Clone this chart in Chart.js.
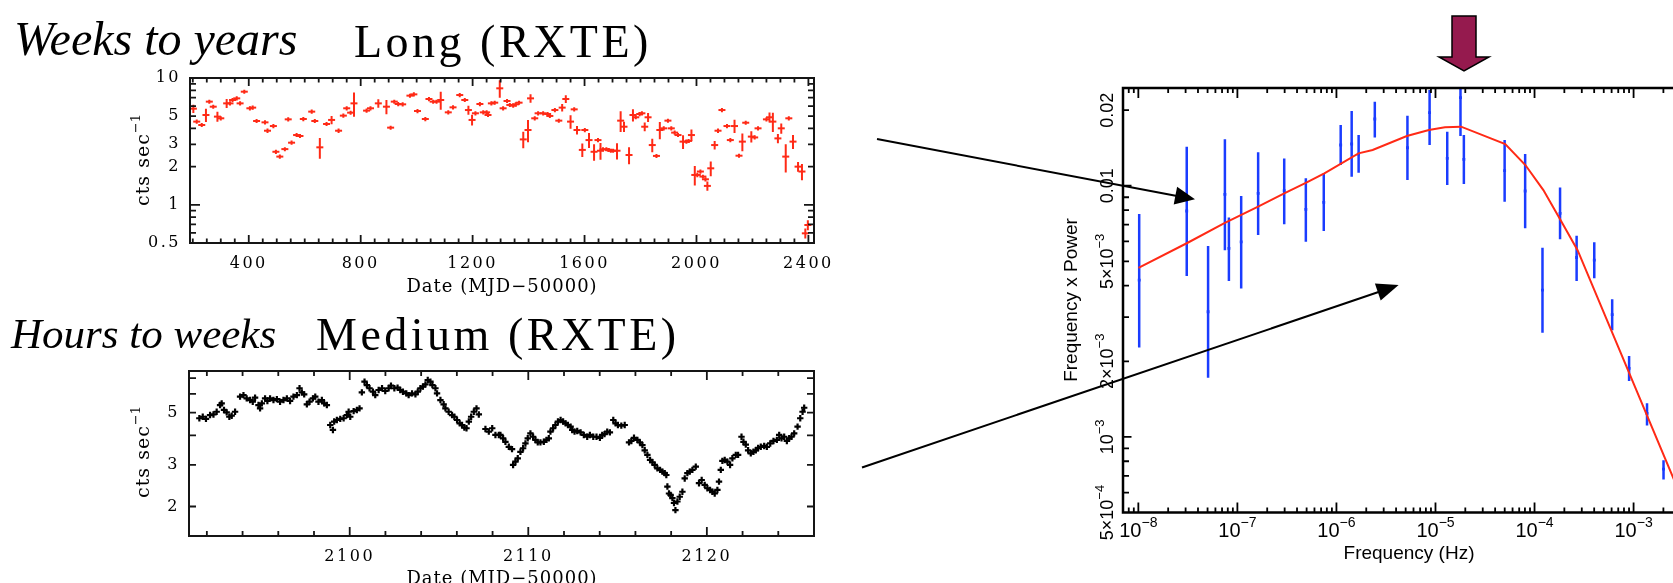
<!DOCTYPE html>
<html lang="en">
<head>
<meta charset="utf-8">
<title>RXTE light curves and power spectrum</title>
<script src="https://cdn.jsdelivr.net/npm/chart.js@4.4.1/dist/chart.umd.min.js"></script>
<style>
  html, body { margin: 0; padding: 0; background: #fff; overflow: hidden; }
  #stage { position: relative; width: 1673px; height: 583px; overflow: hidden; background: #fff; }
  #stage canvas { position: absolute; left: 0; top: 0; }
  #overlay { position: absolute; left: 0; top: 0; }
</style>
</head>
<body>
<div id="stage">
  <canvas id="longChart" width="1673" height="583"></canvas>
  <canvas id="medChart" width="1673" height="583"></canvas>
  <canvas id="psdChart" width="1720" height="583"></canvas>
  <svg id="overlay" width="1673" height="583" viewBox="0 0 1673 583">
    <text x="14" y="55" font-family="Liberation Serif" font-style="italic" font-size="48" fill="#000">Weeks to years</text>
    <text x="354" y="57" font-family="Liberation Serif" font-size="46" letter-spacing="3.5" fill="#000">Long (RXTE)</text>
    <text x="11" y="348" font-family="Liberation Serif" font-style="italic" font-size="43" fill="#000">Hours to weeks</text>
    <text x="316" y="350" font-family="Liberation Serif" font-size="46" letter-spacing="3.5" fill="#000">Medium (RXTE)</text>
    <!-- break-frequency marker -->
    <polygon points="1452,16 1476,16 1476,57 1489,57 1464,71 1439,57 1452,57" fill="#951a4e" stroke="#000" stroke-width="1.5"/>
    <!-- pointers from the light curves to the spectrum -->
    <line x1="877" y1="139" x2="1177" y2="196" stroke="#000" stroke-width="2"/>
    <polygon points="1195,199.3 1177.1,186.8 1173.7,204.4" fill="#000"/>
    <line x1="862" y1="467.5" x2="1380" y2="291.5" stroke="#000" stroke-width="2"/>
    <polygon points="1398.6,285 1374.9,283.6 1380.7,300.6" fill="#000"/>
  </svg>
</div>
<script>
// ---------- Long-term light curve (MJD-50000, count rate, 1-sigma error) ----------
const longDay = [202, 214, 232, 247, 259, 273, 288, 300, 321, 333, 342, 357, 369, 384, 404, 414, 428, 458, 467, 488,
  497, 511, 529, 541, 553, 571, 583, 595, 625, 636, 654, 678, 696, 721, 738, 750, 764, 776, 821, 835,
  863, 892, 907, 920, 934, 950, 976, 990, 1003, 1031, 1044, 1059, 1071, 1086, 1113, 1130, 1154, 1172, 1185, 1198,
  1210, 1226, 1238, 1250, 1255, 1267, 1279, 1297, 1309, 1323, 1333, 1345, 1354, 1366, 1381, 1398, 1407, 1422, 1434, 1452,
  1468, 1476, 1494, 1508, 1520, 1533, 1550, 1563, 1573, 1592, 1601, 1616, 1634, 1648, 1657, 1666, 1678, 1686, 1694, 1702,
  1716, 1729, 1741, 1759, 1773, 1783, 1797, 1805, 1815, 1827, 1842, 1857, 1869, 1883, 1898, 1910, 1922, 1934, 1952, 1964,
  1972, 1982, 1994, 2003, 2014, 2023, 2032, 2039, 2051, 2065, 2077, 2091, 2109, 2121, 2136, 2152, 2164, 2176, 2196, 2208,
  2220, 2250, 2261, 2273, 2291, 2303, 2319, 2330, 2345, 2363, 2377, 2389, 2398];
const longRate = [5.73, 4.53, 4.26, 5.11, 6.51, 5.94, 4.96, 4.81, 6.31, 6.31, 6.71, 6.91, 6.31, 7.80, 5.77, 5.84, 4.58, 4.47, 3.84, 4.18,
  2.62, 2.40, 2.75, 4.72, 3.09, 3.55, 3.49, 4.75, 5.43, 4.58, 2.84, 4.34, 4.67, 3.84, 5.05, 5.77, 5.33, 6.31, 5.53, 5.77,
  6.31, 5.94, 4.06, 6.51, 6.24, 6.20, 7.26, 7.43, 5.49, 4.75, 6.83, 6.51, 6.51, 6.71, 5.36, 5.87, 7.34, 6.71, 5.59, 4.67,
  5.27, 6.24, 5.36, 5.36, 5.11, 6.31, 6.39, 8.29, 5.77, 6.59, 6.13, 6.05, 6.20, 6.39, 3.28, 3.89, 6.91, 4.81, 5.27, 5.27,
  5.20, 5.02, 5.59, 4.61, 5.84, 6.83, 4.53, 5.66, 3.89, 2.71, 3.89, 3.24, 2.62, 3.24, 2.67, 2.74, 2.74, 2.71, 2.67, 2.67,
  2.67, 4.61, 4.13, 2.47, 5.11, 4.90, 5.20, 5.27, 4.13, 4.90, 2.96, 2.43, 3.89, 4.01, 4.61, 4.01, 3.71, 3.55, 3.15, 3.15,
  3.19, 3.55, 1.72, 1.72, 1.83, 1.67, 1.59, 1.41, 1.94, 2.96, 3.84, 5.59, 4.18, 3.24, 4.18, 2.44, 3.15, 4.44, 3.45, 3.40,
  4.01, 4.72, 4.90, 4.53, 3.34, 4.01, 2.40, 4.81, 3.15, 2.00, 1.83, 0.596, 0.693];
const longErr = [0.43, 0.17, 0.16, 0.62, 0.24, 0.22, 0.45, 0.18, 0.51, 0.24, 0.25, 0.26, 0.24, 0.29, 0.22, 0.22, 0.17, 0.17, 0.15, 0.16,
  0.10, 0.09, 0.10, 0.18, 0.12, 0.13, 0.13, 0.18, 0.21, 0.17, 0.53, 0.16, 0.35, 0.15, 0.19, 0.22, 0.20, 1.37, 0.21, 0.22,
  0.48, 0.76, 0.15, 0.24, 0.24, 0.23, 0.27, 0.28, 0.21, 0.18, 0.26, 0.24, 0.24, 1.08, 0.20, 0.22, 0.28, 0.25, 0.45, 0.45,
  0.20, 0.24, 0.20, 0.20, 0.19, 0.24, 0.24, 1.30, 0.22, 0.25, 0.23, 0.23, 0.23, 0.24, 0.49, 0.77, 0.52, 0.18, 0.20, 0.20,
  0.20, 0.19, 0.21, 0.17, 0.39, 0.48, 0.55, 0.21, 0.30, 0.33, 0.15, 0.44, 0.39, 0.12, 0.40, 0.10, 0.10, 0.10, 0.10, 0.10,
  0.39, 0.85, 0.38, 0.38, 0.57, 0.18, 0.20, 0.20, 0.33, 0.40, 0.36, 0.09, 0.60, 0.15, 0.17, 0.15, 0.14, 0.13, 0.39, 0.12,
  0.12, 0.37, 0.30, 0.07, 0.07, 0.06, 0.06, 0.12, 0.26, 0.23, 0.15, 0.21, 0.16, 0.12, 0.50, 0.09, 0.50, 0.17, 0.35, 0.13,
  0.15, 0.18, 0.45, 0.78, 0.28, 0.37, 0.60, 0.18, 0.40, 0.18, 0.27, 0.054, 0.062];

// ---------- Medium-term light curve (MJD-50000, count rate) ----------
const medDay = [2091.58, 2091.77, 2091.95, 2092.18, 2092.37, 2092.55, 2092.74, 2092.83, 2092.96, 2093.11,
  2093.26, 2093.39, 2093.58, 2093.86, 2094.05, 2094.23, 2094.42, 2094.57, 2094.70, 2094.89,
  2094.98, 2095.08, 2095.26, 2095.39, 2095.54, 2095.73, 2095.92, 2096.10, 2096.29, 2096.48,
  2096.66, 2096.85, 2097.04, 2097.19, 2097.32, 2097.45, 2097.60, 2097.75, 2097.94, 2098.07,
  2098.25, 2098.44, 2098.57, 2098.72, 2098.91, 2099.06, 2099.13, 2099.28, 2099.47, 2099.66,
  2099.84, 2099.94, 2100.03, 2100.22, 2100.40, 2100.55, 2100.68, 2100.83, 2100.96, 2101.11,
  2101.30, 2101.43, 2101.62, 2101.81, 2101.99, 2102.18, 2102.31, 2102.50, 2102.68, 2102.83,
  2102.98, 2103.17, 2103.30, 2103.49, 2103.68, 2103.81, 2103.96, 2104.10, 2104.24, 2104.37,
  2104.52, 2104.63, 2104.80, 2104.89, 2105.08, 2105.26, 2105.36, 2105.54, 2105.73, 2105.86,
  2106.01, 2106.16, 2106.29, 2106.42, 2106.54, 2106.67, 2106.80, 2106.95, 2107.10, 2107.23,
  2107.60, 2107.79, 2107.98, 2108.16, 2108.35,
  2108.44, 2108.59, 2108.72, 2108.91, 2109.09, 2109.15, 2109.28, 2109.41, 2109.56, 2109.71,
  2109.84, 2109.97, 2110.12, 2110.27, 2110.40, 2110.53, 2110.68, 2110.87, 2111.02, 2111.15,
  2111.24, 2111.39, 2111.52, 2111.66, 2111.81, 2111.95, 2112.09, 2112.22, 2112.37, 2112.46,
  2112.59, 2112.74, 2112.93, 2113.11, 2113.30, 2113.45, 2113.64, 2113.82, 2114.01, 2114.14,
  2114.27, 2114.42, 2114.57, 2114.76, 2114.89, 2115.02, 2115.21, 2115.40, 2115.64, 2115.77,
  2115.92, 2116.11, 2116.25, 2116.39, 2116.52, 2116.67, 2116.82, 2116.95, 2117.08, 2117.23,
  2117.38, 2117.51, 2117.64, 2117.73, 2117.79, 2117.88, 2117.97, 2118.07, 2118.16, 2118.24,
  2118.35, 2118.48, 2118.63, 2118.76, 2118.91, 2119.04, 2119.19, 2119.38, 2119.56, 2119.71,
  2119.88, 2120.03, 2120.18, 2120.31, 2120.44, 2120.59, 2120.68, 2120.78, 2120.87, 2121.00,
  2121.15, 2121.30, 2121.43, 2121.62, 2121.75, 2121.94, 2122.05, 2122.18, 2122.31, 2122.46,
  2122.61, 2122.74, 2122.87, 2123.02, 2123.21, 2123.36, 2123.55, 2123.73, 2123.92, 2124.05,
  2124.18, 2124.33, 2124.48, 2124.61, 2124.74, 2124.89, 2125.08, 2125.23, 2125.36, 2125.45];
const medRate = [4.73, 4.80, 4.70, 4.88, 4.91, 5.04, 5.38, 5.47, 5.13, 5.01,
  4.80, 4.85, 5.04, 5.84, 5.93, 5.74, 5.65, 5.56, 5.78, 5.38,
  5.21, 5.47, 5.74, 5.60, 5.74, 5.65, 5.70, 5.56, 5.65, 5.74,
  5.60, 5.84, 5.93, 6.34, 6.09, 5.97, 5.42, 5.56, 5.74, 5.84,
  5.56, 5.65, 5.47, 5.38, 4.43, 4.22, 4.58, 4.65, 4.70, 4.73,
  4.88, 5.04, 4.80, 5.07, 5.13, 5.21, 6.09, 6.76, 6.54, 6.34,
  6.13, 5.93, 6.23, 6.34, 6.17, 6.34, 6.50, 6.34, 6.38, 6.23,
  6.13, 6.03, 5.93, 6.03, 5.97, 6.13, 6.34, 6.44, 6.58, 6.87,
  6.76, 6.54, 6.34, 6.03, 5.65, 5.42, 5.21, 5.04, 4.88, 4.80,
  4.65, 4.50, 4.43, 4.32, 4.29, 4.58, 4.80, 5.04, 5.21, 4.91,
  4.26, 4.15, 4.29, 4.02, 4.02,
  4.02, 3.89, 3.76, 3.58, 3.50, 3.00, 3.10, 3.20, 3.41, 3.53,
  3.70, 3.89, 4.08, 3.95, 3.83, 3.74, 3.74, 3.76, 3.83, 3.89,
  4.15, 4.29, 4.43, 4.58, 4.65, 4.58, 4.50, 4.43, 4.36, 4.22,
  4.15, 4.18, 4.12, 4.02, 3.95, 4.02, 3.95, 3.95, 3.91, 4.02,
  4.05, 4.15, 4.12, 4.65, 4.50, 4.43, 4.40, 4.43, 3.74, 3.79,
  3.91, 3.83, 3.74, 3.64, 3.46, 3.31, 3.15, 3.08, 3.00, 2.90,
  2.86, 2.81, 2.77, 2.72, 2.43, 2.27, 2.24, 2.17, 2.07, 1.93,
  2.10, 2.20, 2.31, 2.63, 2.77, 2.81, 2.86, 2.95, 2.51, 2.59,
  2.47, 2.39, 2.35, 2.31, 2.27, 2.35, 2.55, 2.86, 3.12, 3.15,
  3.10, 3.00, 3.20, 3.31, 3.31, 3.95, 3.76, 3.66, 3.46, 3.36,
  3.41, 3.46, 3.54, 3.58, 3.61, 3.58, 3.70, 3.79, 3.83, 4.02,
  3.89, 3.95, 3.79, 3.89, 3.95, 4.08, 4.36, 4.73, 5.04, 5.24];

// ---------- Power spectrum (frequency x power) with error range ----------
const psdFreq = [1.02e-8, 3.08e-8, 5.06e-8, 7.48e-8, 8.21e-8, 1.092e-7, 1.62e-7, 2.97e-7, 4.91e-7, 7.45e-7,
  1.104e-6, 1.425e-6, 1.675e-6, 2.44e-6, 5.21e-6, 8.72e-6, 1.314e-5, 1.788e-5, 1.934e-5, 4.99e-5,
  8.04e-5, 1.203e-4, 1.81e-4, 2.66e-4, 4.01e-4, 6.08e-4, 9.01e-4, 1.367e-3, 2.006e-3];
const psdPower = [4.21e-3, 7.93e-3, 3.15e-3, 9.24e-3, 5.63e-3, 5.98e-3, 9.33e-3, 9.55e-3, 8.05e-3, 8.59e-3,
  0.01453, 0.01466, 0.01337, 0.01844, 0.01417, 0.01954, 0.01286, 0.02242, 0.01274, 0.01148,
  9.53e-3, 3.84e-3, 7.76e-3, 5.18e-3, 5.06e-3, 3.07e-3, 1.873e-3, 1.24e-3, 7.44e-4];
const psdLow = [2.27e-3, 4.37e-3, 1.72e-3, 5.54e-3, 4.18e-3, 3.90e-3, 6.36e-3, 7.02e-3, 5.98e-3, 6.60e-3,
  0.01209, 0.01086, 0.01127, 0.01558, 0.01054, 0.01453, 0.01006, 0.01578, 0.01016, 8.64e-3,
  6.77e-3, 2.60e-3, 6.12e-3, 4.18e-3, 4.28e-3, 2.66e-3, 1.67e-3, 1.11e-3, 6.77e-4];
const psdHigh = [7.71e-3, 0.01430, 5.75e-3, 0.01531, 7.48e-3, 9.10e-3, 0.01358, 0.01285, 0.01070, 0.01120,
  0.01745, 0.01984, 0.01592, 0.02161, 0.01901, 0.02406, 0.01641, 0.02466, 0.01592, 0.01521,
  0.01337, 5.66e-3, 9.85e-3, 6.32e-3, 5.95e-3, 3.53e-3, 2.10e-3, 1.36e-3, 8.08e-4];

// bending power-law model
const modelFreq = [1.003e-8, 3.15e-8, 7.31e-8, 1.618e-7, 2.97e-7, 4.96e-7, 7.55e-7, 1.67e-6, 2.32e-6, 5.14e-6,
  8.58e-6, 1.246e-5, 1.813e-5, 5.06e-5, 8.08e-5, 1.228e-4, 1.872e-4, 2.72e-4, 4.9e-3];
const modelPower = [4.71e-3, 5.93e-3, 7.08e-3, 8.25e-3, 9.33e-3, 0.01028, 0.01121, 0.01346, 0.01388, 0.01578,
  0.01667, 0.01709, 0.01719, 0.01466, 0.01209, 9.61e-3, 7.19e-3, 5.54e-3, 3.67e-4];

// ---------- tick labels ----------
const longXTickLabels = [400, 800, 1200, 1600, 2000, 2400];
const longYTickLabels = [0.5, 1, 2, 3, 5, 10];
const medXTickLabels = [2100, 2110, 2120];
const medYTickLabels = [2, 3, 5];
const psdXTickExponents = [-8, -7, -6, -5, -4, -3];
const psdYTickValues = [5e-4, 1e-3, 2e-3, 5e-3, 0.01, 0.02];

const RED = '#ff2a16';
const BLUE = '#1a3cff';
const SERIF = '"DejaVu Serif", serif';
const SANS = '"Liberation Sans", Arial, sans-serif';

// tick mark positions (m x 10^k) for log axes
function logTickMarks(min, max) {
  const marks = [];
  const e0 = Math.floor(Math.log10(min)), e1 = Math.ceil(Math.log10(max));
  for (let e = e0; e <= e1; e++) {
    for (let m = 1; m <= 9; m++) {
      const v = m * Math.pow(10, e);
      if (v >= min * 0.999 && v <= max * 1.001) marks.push({ v, major: m === 1 });
    }
  }
  return marks;
}
// evenly spaced tick marks for linear axes
function linTickMarks(from, to, step, majorStep) {
  const marks = [];
  for (let v = from; v <= to + 1e-9; v += step) {
    const r = v / majorStep;
    marks.push({ v, major: Math.abs(r - Math.round(r)) < 1e-6 });
  }
  return marks;
}

// draw a run of text pieces (for superscripts) on one baseline
function drawParts(ctx, parts, x, y, align) {
  let total = 0;
  const widths = parts.map(p => {
    ctx.font = p.font;
    ctx.letterSpacing = p.spacing || '0px';
    const w = ctx.measureText(p.t).width;
    total += w;
    return w;
  });
  let cx = align === 'center' ? x - total / 2 : align === 'right' ? x - total : x;
  parts.forEach((p, i) => {
    ctx.font = p.font;
    ctx.letterSpacing = p.spacing || '0px';
    ctx.fillText(p.t, cx, y - (p.rise || 0));
    cx += widths[i];
  });
  ctx.letterSpacing = '0px';
}

// axes box with inward ticks, tick labels, axis titles and error bars
function framePlugin(cfg) {
  return {
    id: 'frame_' + cfg.name,
    beforeDatasetsDraw(chart) {
      const eb = cfg.errorBars;
      if (!eb) return;
      const { ctx, chartArea: a } = chart;
      const xs = chart.scales.x, ys = chart.scales.y;
      ctx.save();
      ctx.beginPath();
      ctx.rect(a.left, a.top, a.right - a.left, a.bottom - a.top);
      ctx.clip();
      ctx.strokeStyle = eb.color;
      ctx.lineWidth = eb.width;
      ctx.beginPath();
      for (let i = 0; i < eb.x.length; i++) {
        const px = xs.getPixelForValue(eb.x[i]);
        ctx.moveTo(px, ys.getPixelForValue(eb.lo[i]));
        ctx.lineTo(px, ys.getPixelForValue(eb.hi[i]));
      }
      ctx.stroke();
      ctx.restore();
    },
    afterDraw(chart) {
      const { ctx, chartArea: a } = chart;
      const xs = chart.scales.x, ys = chart.scales.y;
      const L = a.left, R = a.right, T = a.top, B = a.bottom;
      const s = cfg.sides;
      ctx.save();
      ctx.strokeStyle = cfg.color;
      ctx.lineWidth = cfg.width;
      ctx.lineCap = 'square';
      ctx.beginPath();
      if (s.left) { ctx.moveTo(L, T); ctx.lineTo(L, B); }
      if (s.right) { ctx.moveTo(R, T); ctx.lineTo(R, B); }
      if (s.top) { ctx.moveTo(L, T); ctx.lineTo(R, T); }
      if (s.bottom) { ctx.moveTo(L, B); ctx.lineTo(R, B); }
      ctx.stroke();

      ctx.lineCap = 'butt';
      ctx.lineWidth = cfg.tickWidth;
      ctx.beginPath();
      for (const t of cfg.xTicks) {
        const px = xs.getPixelForValue(t.v);
        if (px < L + 1 || px > R - 1) continue;
        const len = t.major ? cfg.xLen[0] : cfg.xLen[1];
        if (s.bottom) { ctx.moveTo(px, B); ctx.lineTo(px, B - len); }
        if (s.top) { ctx.moveTo(px, T); ctx.lineTo(px, T + len); }
      }
      for (const t of cfg.yTicks) {
        const py = ys.getPixelForValue(t.v);
        if (py < T + 1 || py > B - 1) continue;
        const len = t.major ? cfg.yLen[0] : cfg.yLen[1];
        if (s.left) { ctx.moveTo(L, py); ctx.lineTo(L + len, py); }
        if (s.right) { ctx.moveTo(R, py); ctx.lineTo(R - len, py); }
      }
      ctx.stroke();

      ctx.fillStyle = '#000';
      ctx.textAlign = 'left';
      ctx.textBaseline = 'alphabetic';
      for (const lab of cfg.xLabels) {
        drawParts(ctx, lab.parts, xs.getPixelForValue(lab.v), cfg.xLabelBaseline, 'center');
      }
      for (const lab of cfg.yLabels) {
        const py = ys.getPixelForValue(lab.v);
        if (cfg.yLabelRotated) {
          ctx.save();
          ctx.translate(cfg.yLabelX, py);
          ctx.rotate(-Math.PI / 2);
          ctx.textBaseline = 'alphabetic';
          drawParts(ctx, lab.parts, 0, 0, 'center');
          ctx.restore();
        } else {
          ctx.textBaseline = 'middle';
          drawParts(ctx, lab.parts, cfg.yLabelX, py, 'right');
        }
      }
      ctx.textBaseline = 'alphabetic';
      for (const t of cfg.titles) {
        if (t.rot) {
          ctx.save();
          ctx.translate(t.x, t.y);
          ctx.rotate(-Math.PI / 2);
          drawParts(ctx, t.parts, 0, 0, 'center');
          ctx.restore();
        } else {
          drawParts(ctx, t.parts, t.x, t.y, 'center');
        }
      }
      ctx.restore();
    }
  };
}

const baseOptions = (pad, xScale, yScale) => ({
  responsive: false,
  animation: false,
  devicePixelRatio: 1,
  events: [],
  layout: { padding: pad },
  plugins: { legend: { display: false }, tooltip: { enabled: false } },
  scales: { x: xScale, y: yScale }
});

const serifTick = v => ({ v, parts: [{ t: String(v), font: '16px ' + SERIF, spacing: '2.5px' }] });
const ctsTitle = (x, y) => ({
  x, y, rot: true,
  parts: [{ t: 'cts sec', font: '19px ' + SERIF, spacing: '1px' }, { t: '\u22121', font: '13px ' + SERIF, rise: 9 }]
});

// ---------- long-term light curve ----------
new Chart(document.getElementById('longChart'), {
  type: 'scatter',
  data: {
    datasets: [{
      data: longDay.map((d, i) => ({ x: d, y: longRate[i] })),
      pointStyle: 'line', pointRadius: 3.5, pointBorderWidth: 2,
      pointBorderColor: RED, borderColor: RED, backgroundColor: RED
    }]
  },
  options: baseOptions({ left: 190, top: 78, right: 1673 - 814, bottom: 583 - 243 },
    { type: 'linear', min: 190, max: 2420, display: false },
    { type: 'logarithmic', min: 0.5, max: 10, display: false }),
  plugins: [framePlugin({
    name: 'long',
    sides: { left: true, right: true, top: true, bottom: true },
    color: '#151515', width: 2, tickWidth: 1.8,
    xTicks: linTickMarks(200, 2400, 50, 400), xLen: [8, 4.5],
    yTicks: logTickMarks(0.5, 10), yLen: [10, 6],
    xLabels: longXTickLabels.map(serifTick), xLabelBaseline: 268,
    yLabels: longYTickLabels.map(serifTick), yLabelX: 181,
    titles: [
      { x: 502, y: 292, parts: [{ t: 'Date (MJD\u221250000)', font: '18px ' + SERIF, spacing: '1px' }] },
      ctsTitle(149, 160)
    ],
    errorBars: {
      x: longDay,
      lo: longRate.map((r, i) => r - longErr[i]),
      hi: longRate.map((r, i) => r + longErr[i]),
      color: RED, width: 2
    }
  })]
});

// ---------- medium-term light curve ----------
new Chart(document.getElementById('medChart'), {
  type: 'scatter',
  data: {
    datasets: [{
      data: medDay.map((d, i) => ({ x: d, y: medRate[i] })),
      pointStyle: 'cross', pointRadius: 3.2, pointBorderWidth: 2.2,
      pointBorderColor: '#000', borderColor: '#000', backgroundColor: '#000'
    }]
  },
  options: baseOptions({ left: 189, top: 371, right: 1673 - 814, bottom: 583 - 536 },
    { type: 'linear', min: 2091, max: 2126, display: false },
    { type: 'logarithmic', min: 1.5, max: 7.5, display: false }),
  plugins: [framePlugin({
    name: 'med',
    sides: { left: true, right: true, top: true, bottom: true },
    color: '#151515', width: 2, tickWidth: 1.8,
    xTicks: linTickMarks(2092, 2126, 2, 10), xLen: [9, 5],
    yTicks: logTickMarks(1.5, 7.5), yLen: [7, 7],
    xLabels: medXTickLabels.map(serifTick), xLabelBaseline: 561,
    yLabels: medYTickLabels.map(serifTick), yLabelX: 180,
    titles: [
      { x: 502, y: 584, parts: [{ t: 'Date (MJD\u221250000)', font: '18px ' + SERIF, spacing: '1px' }] },
      ctsTitle(149, 452)
    ]
  })]
});

// ---------- power spectrum ----------
function powerLabel(v) {
  if (v >= 0.01) return [{ t: String(v), font: '18px ' + SANS }];
  const e = Math.floor(Math.log10(v) + 1e-9);
  const m = Math.round(v / Math.pow(10, e));
  return [
    { t: (m === 1 ? '' : m + '\u00d7') + '10', font: '18px ' + SANS },
    { t: '\u2212' + (-e), font: '13px ' + SANS, rise: 9 }
  ];
}

new Chart(document.getElementById('psdChart'), {
  type: 'scatter',
  data: {
    datasets: [
      {
        data: modelFreq.map((f, i) => ({ x: f, y: modelPower[i] })),
        showLine: true, borderColor: RED, borderWidth: 2, pointRadius: 0, fill: false, tension: 0
      },
      {
        data: psdFreq.map((f, i) => ({ x: f, y: psdPower[i] })),
        pointStyle: 'rect', pointRadius: 2, pointBorderWidth: 0,
        backgroundColor: BLUE, borderColor: BLUE
      }
    ]
  },
  options: baseOptions({ left: 1123, top: 88, right: 27, bottom: 70.5 },
    { type: 'logarithmic', min: 7.45e-9, max: 3.98e-3, display: false },
    { type: 'logarithmic', min: 5e-4, max: 0.0245, display: false }),
  plugins: [framePlugin({
    name: 'psd',
    sides: { left: true, right: false, top: true, bottom: true },
    color: '#000', width: 2.5, tickWidth: 1.8,
    xTicks: logTickMarks(7.45e-9, 3.98e-3), xLen: [10, 5],
    yTicks: logTickMarks(5e-4, 0.0245), yLen: [8.5, 6],
    xLabels: psdXTickExponents.map(e => ({
      v: Math.pow(10, e),
      parts: [{ t: '10', font: '20px ' + SANS }, { t: '\u2212' + (-e), font: '14px ' + SANS, rise: 10 }]
    })),
    xLabelBaseline: 537,
    yLabels: psdYTickValues.map(v => ({ v, parts: powerLabel(v) })),
    yLabelRotated: true, yLabelX: 1113,
    titles: [
      { x: 1409, y: 559, parts: [{ t: 'Frequency (Hz)', font: '19px ' + SANS }] },
      { x: 1077, y: 300, rot: true, parts: [{ t: 'Frequency x Power', font: '19px ' + SANS }] }
    ],
    errorBars: { x: psdFreq, lo: psdLow, hi: psdHigh, color: BLUE, width: 2.5 }
  })]
});
</script>
</body>
</html>
